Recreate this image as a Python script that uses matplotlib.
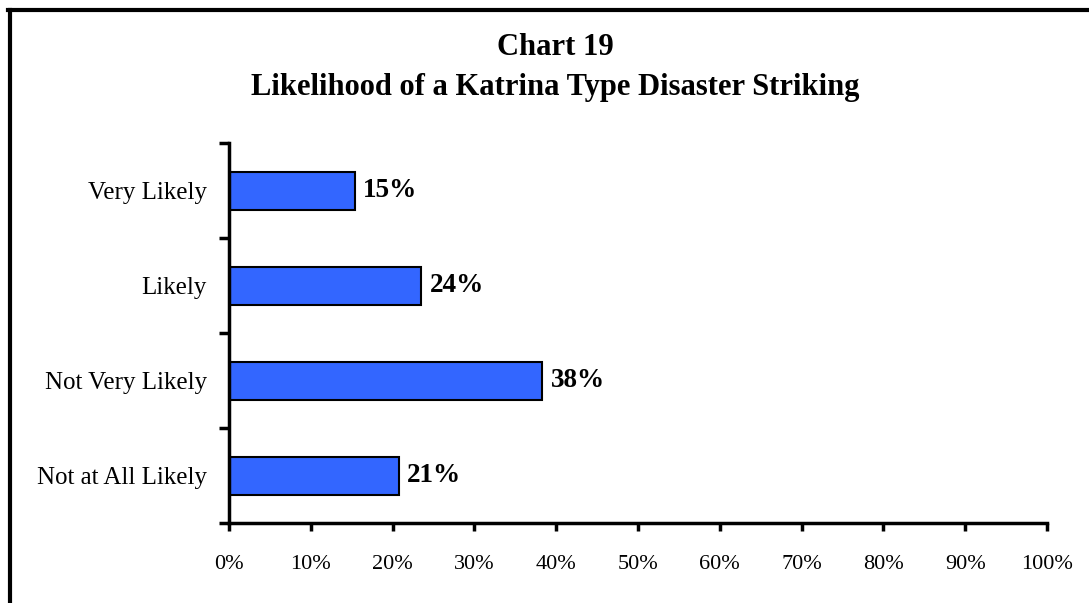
import matplotlib
matplotlib.use("Agg")
import matplotlib.pyplot as plt
from matplotlib.lines import Line2D

categories = ["Very Likely", "Likely", "Not Very Likely", "Not at All Likely"]
values = [15.4, 23.5, 38.3, 20.8]
value_labels = ["15%", "24%", "38%", "21%"]
xticks = [0, 10, 20, 30, 40, 50, 60, 70, 80, 90, 100]
xtick_labels = [f"{t}%" for t in xticks]
title_lines = ["Chart 19", "Likelihood of a Katrina Type Disaster Striking"]

plt.rcParams['font.family'] = ['Liberation Serif', 'DejaVu Serif']

W, H = 1089, 603
fig = plt.figure(figsize=(W/100, H/100), dpi=100)
ax = fig.add_axes([229/W, 1-523/H, (1047-229)/W, (523-143)/H])

ypos = list(range(len(categories)))[::-1]  # top to bottom
ax.barh(ypos, values, height=0.4, color="#3366FF", edgecolor="black", linewidth=1.5)
for y, v, lab in zip(ypos, values, value_labels):
    ax.text(v + 1.0, y, lab, va="center", ha="left", fontsize=19.5, fontweight="bold")

ax.set_xlim(0, 100)
ax.set_ylim(-0.5, len(categories) - 0.5)
ax.set_xticks(xticks)
ax.set_xticklabels(xtick_labels, fontsize=16)
ax.set_yticks(ypos)
ax.set_yticklabels(categories, fontsize=18)
ax.set_yticks([i - 0.5 for i in range(len(categories) + 1)], minor=True)
ax.tick_params(axis="y", which="major", length=0, pad=16)
ax.tick_params(axis="y", which="minor", length=7, width=2.5, direction="out")
ax.tick_params(axis="x", which="major", length=6, width=2.5, direction="out", pad=17)
for s in ["top", "right"]:
    ax.spines[s].set_visible(False)
for s in ["left", "bottom"]:
    ax.spines[s].set_linewidth(2.5)

fig.text(555/W, 1-55/H, title_lines[0], ha="center", va="baseline", fontsize=22, fontweight="bold")
fig.text(555/W, 1-95/H, title_lines[1], ha="center", va="baseline", fontsize=22, fontweight="bold")

fig.add_artist(Line2D([9.5/W, 9.5/W], [0, 1-9.5/H], transform=fig.transFigure, color="black", linewidth=3))
fig.add_artist(Line2D([8/W, 1], [1-9.5/H, 1-9.5/H], transform=fig.transFigure, color="black", linewidth=3))

fig.savefig("out.png", dpi=100)
